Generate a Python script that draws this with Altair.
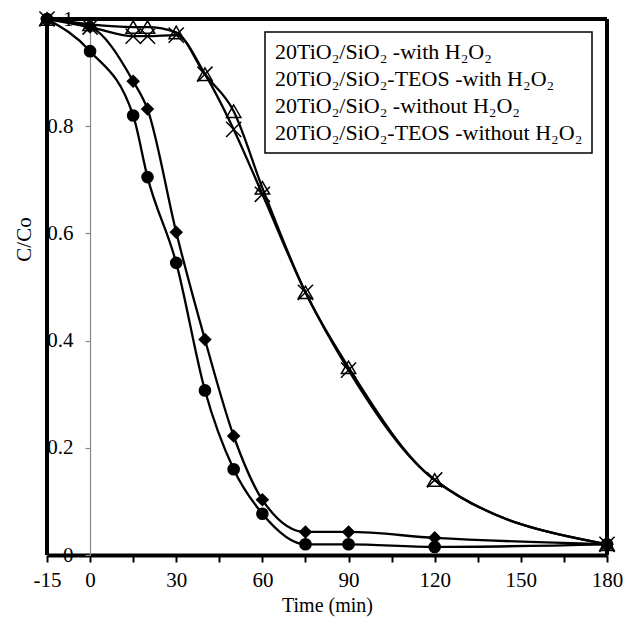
import altair as alt
import pandas as pd

# ---- data ----
time_min = [-15, 0, 15, 20, 30, 40, 50, 60, 75, 90, 120, 180]
series_names = [
    "20TiO₂/SiO₂ -with H₂O₂",
    "20TiO₂/SiO₂-TEOS -with H₂O₂",
    "20TiO₂/SiO₂ -without H₂O₂",
    "20TiO₂/SiO₂-TEOS -without H₂O₂",
]
s1_circle = [1.0, 0.94, 0.82, 0.705, 0.545, 0.307, 0.16, 0.077, 0.02, 0.02, 0.015, 0.02]
s2_diamond = [1.0, 0.985, 0.884, 0.832, 0.602, 0.402, 0.222, 0.103, 0.043, 0.043, 0.032, 0.02]
s3_triangle = [1.0, 0.99, 0.985, 0.985, 0.975, 0.897, 0.828, 0.685, 0.49, 0.35, 0.14, 0.02]
s4_cross = [1.0, 0.985, 0.968, 0.968, 0.97, 0.897, 0.794, 0.673, 0.49, 0.345, 0.14, 0.02]
x_ticks = [-15, 0, 15, 30, 45, 60, 75, 90, 105, 120, 135, 150, 165, 180]
y_ticks = [0, 0.2, 0.4, 0.6, 0.8, 1.0]

all_values = [s1_circle, s2_diamond, s3_triangle, s4_cross]
rows = []
for name, vals in zip(series_names, all_values):
    for t, v in zip(time_min, vals):
        rows.append({"series": name, "time": t, "c": v})
df = pd.DataFrame(rows)

FONT = "Liberation Serif"

x_enc = alt.X(
    "time:Q",
    scale=alt.Scale(domain=[-15, 180], nice=False, zero=False),
    axis=alt.Axis(
        values=x_ticks,
        labelExpr="(datum.value % 30 == 0 || datum.value == -15) ? toString(datum.value) : ''",
        title="Time (min)",
        labelFont=FONT, labelFontSize=21, labelColor="black",
        titleFont=FONT, titleFontSize=20, titleFontWeight="normal", titleColor="black",
        domainColor="black", domainWidth=4,
        tickColor="black", tickWidth=2, tickSize=7,
        labelPadding=7, labelFlush=False, labelOverlap=False,
        titlePadding=5, grid=False,
    ),
)
y_enc = alt.Y(
    "c:Q",
    scale=alt.Scale(domain=[0, 1], nice=False, zero=False),
    axis=alt.Axis(
        values=y_ticks, format=".1~f",
        title="C/Co", offset=-43,
        labelFont=FONT, labelFontSize=21, labelColor="black",
        titleFont=FONT, titleFontSize=21, titleFontWeight="normal", titleColor="black",
        domainColor="#888888", domainWidth=1.2,
        tickColor="#888888", tickWidth=1.2, tickSize=5,
        labelPadding=12, grid=False,
        titleX=-66, titleY=220, titleAlign="center", titleBaseline="middle",
    ),
)

lines = alt.Chart(df).mark_line(interpolate="monotone").encode(
    x=x_enc, y=y_enc,
    color=alt.Color(
        "series:N",
        scale=alt.Scale(domain=series_names, range=["black"] * 4),
        legend=alt.Legend(
            title=None, orient="none", legendX=218, legendY=13,
            symbolOpacity=0, symbolSize=0, symbolStrokeWidth=0,
            labelOffset={"expr": "-21"}, labelFont=FONT, labelFontSize=22, labelLimit=500,
            labelColor="black", rowPadding=5, padding=9,
            strokeColor="black",
        ),
    ),
    strokeWidth=alt.StrokeWidth(
        "series:N",
        scale=alt.Scale(domain=series_names, range=[2.3, 2.3, 3, 3]),
        legend=None,
    ),
)

shape_scale = alt.Scale(
    domain=series_names,
    range=["circle", "diamond", "triangle-up", "M-1,-1L1,1M-1,1L1,-1"],
)
size_scale = alt.Scale(domain=series_names, range=[160, 230, 190, 220])

filled_pts = alt.Chart(df).transform_filter(
    alt.FieldOneOfPredicate(field="series", oneOf=series_names[:2])
).mark_point(filled=True, color="black", opacity=1).encode(
    x="time:Q", y="c:Q",
    shape=alt.Shape("series:N", scale=shape_scale, legend=None),
    size=alt.Size("series:N", scale=size_scale, legend=None),
)

open_pts = alt.Chart(df).transform_filter(
    alt.FieldOneOfPredicate(field="series", oneOf=series_names[2:])
).mark_point(filled=False, color="black", strokeWidth=1.5, opacity=1).encode(
    x="time:Q", y="c:Q",
    shape=alt.Shape("series:N", scale=shape_scale, legend=None),
    size=alt.Size("series:N", scale=size_scale, legend=None),
)

border_left = alt.Chart(df).mark_rule(color="black", strokeWidth=3.5).encode(
    x=alt.datum(-15), y=alt.datum(0), y2=alt.datum(1)
)
border_right = alt.Chart(df).mark_rule(color="black", strokeWidth=2.5).encode(
    x=alt.datum(180), y=alt.datum(0), y2=alt.datum(1)
)
border_top = alt.Chart(df).mark_rule(color="black", strokeWidth=3.5).encode(
    y=alt.datum(1), x=alt.datum(-15), x2=alt.datum(180)
)

chart = alt.layer(
    lines, filled_pts, open_pts, border_left, border_right, border_top
).properties(
    width=560, height=536,
    autosize=alt.AutoSizeParams(type="none"),
    padding={"left": 39, "top": 11, "right": 20, "bottom": 66},
).configure_view(stroke=None).configure_legend(strokeWidth=1.5)

chart.save("out.html", embed_options={"renderer": "svg", "actions": False})
